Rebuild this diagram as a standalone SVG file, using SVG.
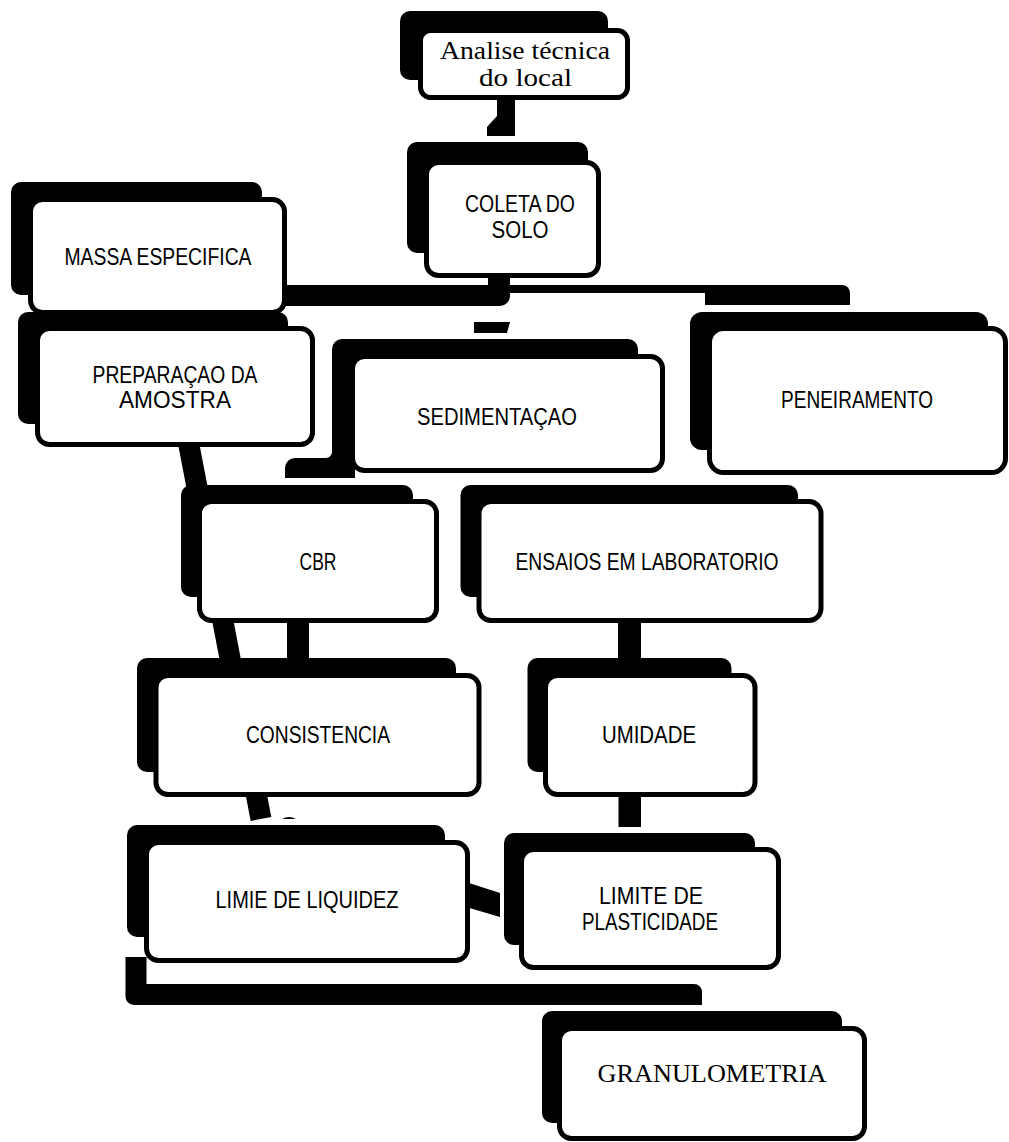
<svg xmlns="http://www.w3.org/2000/svg" width="1009" height="1142" viewBox="0 0 1009 1142">
<style>
.sh{fill:#000}
.bx{fill:#fff;stroke:#000;stroke-width:5}
.c{fill:#000}
.t{font-family:"Liberation Sans Narrow","Liberation Sans",Arial,sans-serif;font-size:24px;text-anchor:middle;fill:#000}
.s{font-family:"Liberation Serif","Times New Roman",serif;text-anchor:middle;fill:#000}
</style>
<rect width="1009" height="1142" fill="#fff"/>
<g id="connectors">
<polygon class="c" points="497,98 515,98 515,136 487,136 487,127 497,116"/>
<path class="c" d="M285,285 H488 V276 H510 V296 A10,10 0 0 1 500,306 H285 Z"/>
<rect class="c" x="508" y="285" width="200" height="8"/>
<path class="c" d="M705,285 H842 A8,8 0 0 1 850,293 V305 H705 Z"/>
<polygon class="c" points="474,322 510,322 507,333 474,333"/>
<line x1="186" y1="430" x2="261" y2="819" stroke="#000" stroke-width="21"/>
<path class="c" d="M282,819 Q289,815 296,819 Z"/>
<path class="c" d="M285,478 V468 A10,10 0 0 1 295,458 H326 A6,6 0 0 0 332,452 V440 H355 V478 Z"/>
<rect class="c" x="287" y="618" width="22" height="42"/>
<rect class="c" x="618" y="618" width="23" height="42"/>
<rect class="c" x="618.5" y="793" width="22.5" height="34"/>
<polygon class="c" points="466,882 500,893 500,917 466,907"/>
<path class="c" d="M125.5,957 H146.5 V984 H694 A8,8 0 0 1 702,992 V1005 H134 A8.5,8.5 0 0 1 125.5,996.5 Z"/>
</g>
<g id="node-analise">
<rect class="sh" x="400" y="11" width="208" height="69" rx="10"/>
<rect class="bx" x="420.5" y="30.5" width="207" height="67" rx="10"/>
<text class="s" font-size="26" x="525" y="59" textLength="170" lengthAdjust="spacingAndGlyphs">Analise técnica</text>
<text class="s" font-size="26" x="525.5" y="86" textLength="93" lengthAdjust="spacingAndGlyphs">do local</text>
</g>
<g id="node-coleta">
<rect class="sh" x="407" y="142" width="181" height="111" rx="10"/>
<rect class="bx" x="426.5" y="162.5" width="172" height="113" rx="12"/>
<text class="t" x="520" y="212" textLength="110" lengthAdjust="spacingAndGlyphs">COLETA DO</text>
<text class="t" x="520" y="238" textLength="57" lengthAdjust="spacingAndGlyphs">SOLO</text>
</g>
<g id="node-preparacao">
<rect class="sh" x="18" y="312" width="270" height="112" rx="10"/>
<rect class="bx" x="37.5" y="328.5" width="275" height="116" rx="12"/>
<text class="t" x="175" y="382.5" textLength="165" lengthAdjust="spacingAndGlyphs">PREPARAÇAO DA</text>
<text class="t" x="175" y="408" textLength="112" lengthAdjust="spacingAndGlyphs">AMOSTRA</text>
</g>
<g id="node-massa">
<rect class="sh" x="11" y="182" width="251" height="113" rx="10"/>
<rect class="bx" x="30.5" y="199.5" width="254" height="113" rx="12"/>
<text class="t" x="158" y="265" textLength="187" lengthAdjust="spacingAndGlyphs">MASSA ESPECIFICA</text>
</g>
<g id="node-sedimentacao">
<rect class="sh" x="332" y="339" width="306" height="113" rx="10"/>
<rect class="bx" x="352.5" y="356.5" width="310" height="114" rx="12"/>
<text class="t" x="497" y="425" textLength="160" lengthAdjust="spacingAndGlyphs">SEDIMENTAÇAO</text>
</g>
<g id="node-peneiramento">
<rect class="sh" x="690" y="312" width="298" height="138" rx="12"/>
<rect class="bx" x="709.5" y="328.5" width="296" height="144" rx="14"/>
<text class="t" x="857" y="408" textLength="152" lengthAdjust="spacingAndGlyphs">PENEIRAMENTO</text>
</g>
<g id="node-cbr">
<rect class="sh" x="181" y="485" width="232" height="112" rx="10"/>
<rect class="bx" x="199.5" y="501.5" width="237" height="119" rx="12"/>
<text class="t" x="318" y="570" textLength="37" lengthAdjust="spacingAndGlyphs">CBR</text>
</g>
<g id="node-ensaios">
<rect class="sh" x="460.5" y="485" width="337.5" height="112" rx="10"/>
<rect class="bx" x="479" y="501.5" width="342" height="119" rx="12"/>
<text class="t" x="647" y="570" textLength="263" lengthAdjust="spacingAndGlyphs">ENSAIOS EM LABORATORIO</text>
</g>
<g id="node-consistencia">
<rect class="sh" x="137" y="658" width="319" height="114" rx="10"/>
<rect class="bx" x="156" y="675.5" width="323" height="119" rx="12"/>
<text class="t" x="318" y="743" textLength="144" lengthAdjust="spacingAndGlyphs">CONSISTENCIA</text>
</g>
<g id="node-umidade">
<rect class="sh" x="527.5" y="658" width="204" height="114" rx="10"/>
<rect class="bx" x="545.5" y="675.5" width="209.5" height="119" rx="12"/>
<text class="t" x="649" y="743" textLength="94" lengthAdjust="spacingAndGlyphs">UMIDADE</text>
</g>
<g id="node-limie">
<rect class="sh" x="127" y="825" width="318" height="112" rx="10"/>
<rect class="bx" x="146.5" y="842.5" width="321" height="118" rx="12"/>
<text class="t" x="307" y="908" textLength="183" lengthAdjust="spacingAndGlyphs">LIMIE DE LIQUIDEZ</text>
</g>
<g id="node-limite">
<rect class="sh" x="504" y="833" width="251" height="112" rx="10"/>
<rect class="bx" x="521.5" y="849.5" width="257" height="118" rx="12"/>
<text class="t" x="651" y="904" textLength="104" lengthAdjust="spacingAndGlyphs">LIMITE DE</text>
<text class="t" x="650" y="930" textLength="136" lengthAdjust="spacingAndGlyphs">PLASTICIDADE</text>
</g>
<g id="node-granulometria">
<rect class="sh" x="542" y="1011" width="300" height="112" rx="10"/>
<rect class="bx" x="559.5" y="1028.5" width="305" height="110" rx="12"/>
<text class="s" font-size="25" x="712" y="1082" textLength="229" lengthAdjust="spacingAndGlyphs">GRANULOMETRIA</text>
</g>
</svg>
